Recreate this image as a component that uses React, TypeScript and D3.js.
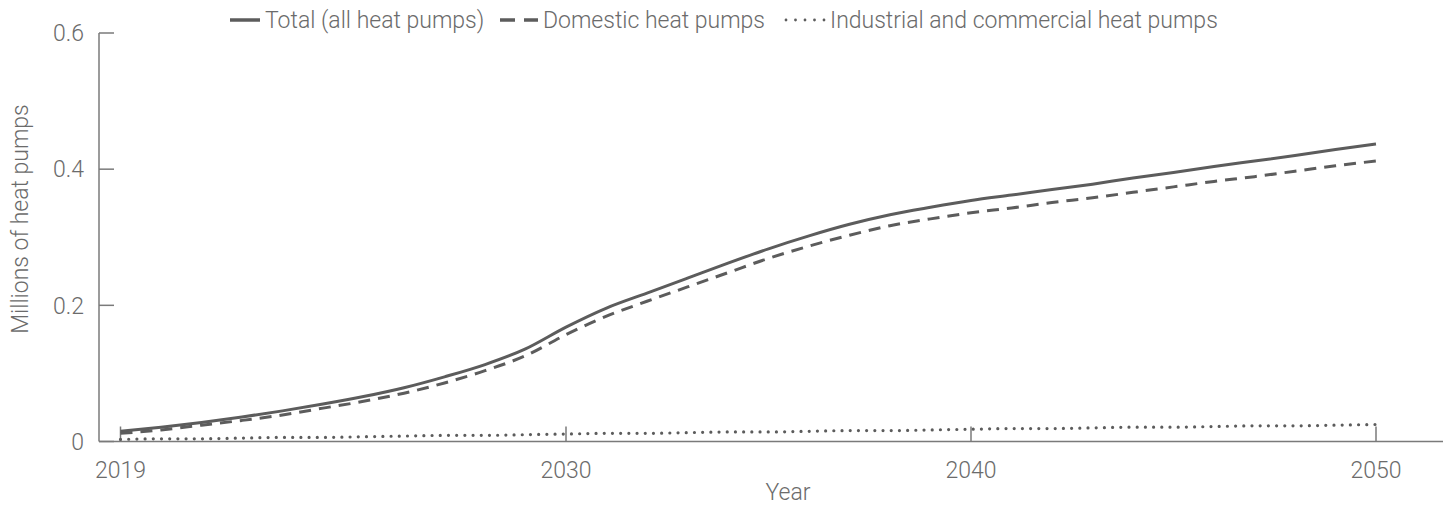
import React from "react";
import * as d3 from "d3";

const years: number[] = d3.range(2019, 2051);
const totalValues: number[] = [0.015, 0.021, 0.028, 0.036, 0.045, 0.055, 0.066, 0.079, 0.095, 0.113, 0.136, 0.168, 0.196, 0.218, 0.240, 0.262, 0.283, 0.302, 0.319, 0.333, 0.344, 0.354, 0.362, 0.370, 0.378, 0.387, 0.395, 0.404, 0.412, 0.420, 0.429, 0.437];
const domesticValues: number[] = [0.012, 0.017, 0.024, 0.031, 0.039, 0.049, 0.059, 0.071, 0.086, 0.104, 0.126, 0.157, 0.184, 0.206, 0.227, 0.248, 0.269, 0.287, 0.303, 0.317, 0.327, 0.336, 0.343, 0.351, 0.358, 0.366, 0.374, 0.382, 0.389, 0.397, 0.405, 0.412];
const industrialValues: number[] = [0.003, 0.004, 0.004, 0.005, 0.006, 0.006, 0.007, 0.008, 0.009, 0.009, 0.010, 0.011, 0.012, 0.012, 0.013, 0.014, 0.014, 0.015, 0.016, 0.016, 0.017, 0.018, 0.019, 0.019, 0.020, 0.021, 0.021, 0.022, 0.023, 0.023, 0.024, 0.025];
const xTicks: number[] = [2019, 2030, 2040, 2050];
const yTicks: number[] = [0, 0.2, 0.4, 0.6];
const seriesNames: string[] = ["Total (all heat pumps)", "Domestic heat pumps", "Industrial and commercial heat pumps"];

const W = 1451;
const H = 508;
const FONT = "Roboto, 'Liberation Sans', Arial, sans-serif";
const TEXT = "#6b6b6b";
const LINE = "#5c5c5c";
const AXIS = "#7a7a7a";
const FS = 23;

export default function App() {
  const x = d3.scaleLinear().domain([2019, 2050]).range([120.5, 1376]);
  const y = d3.scaleLinear().domain([0, 0.6]).range([441.5, 33]);
  const axisLeft = 99;
  const axisRight = 1443;

  const line = d3
    .line<number>()
    .x((_, i) => x(years[i]))
    .y((d) => y(d))
    .curve(d3.curveMonotoneX);

  const styles = [
    { dash: undefined as string | undefined, width: 3, cap: "butt" as const },
    { dash: "12 8", width: 3, cap: "butt" as const },
    { dash: "0 8.2", width: 3.2, cap: "round" as const },
  ];
  const series = [totalValues, domesticValues, industrialValues];

  const legend = [
    { x0: 230, x1: 260, dash: undefined as string | undefined, w: 3.5, cap: "butt" as const },
    { x0: 500, x1: 538, dash: "15 9", w: 3.5, cap: "butt" as const },
    { x0: 786, x1: 825, dash: "0 9.5", w: 2.8, cap: "round" as const },
  ];

  return (
    <svg
      width={W}
      height={H}
      style={{ position: "absolute", left: 0, top: 0, background: "#fff" }}
      fontFamily={FONT}
      fontWeight={300}
    >
      {/* axes */}
      <line x1={axisLeft} x2={axisRight} y1={y(0)} y2={y(0)} stroke={AXIS} strokeWidth={1.5} />
      <line x1={axisLeft} x2={axisLeft} y1={y(0.6)} y2={y(0)} stroke={AXIS} strokeWidth={1.5} />
      {yTicks.map((t) => (
        <g key={"y" + t}>
          <line x1={axisLeft} x2={axisLeft + 15} y1={y(t)} y2={y(t)} stroke={AXIS} strokeWidth={1.5} />
          <text x={84} y={y(t)} dy="0.36em" textAnchor="end" fontSize={FS} fill={TEXT}>
            {t === 0 ? "0" : t.toFixed(1)}
          </text>
        </g>
      ))}
      {xTicks.map((t) => (
        <g key={"x" + t}>
          <line x1={x(t)} x2={x(t)} y1={y(0)} y2={y(0) - 15} stroke={AXIS} strokeWidth={1.5} />
          <text x={x(t)} y={477.5} textAnchor="middle" fontSize={FS} fill={TEXT}>
            {t}
          </text>
        </g>
      ))}
      <text x={788} y={500} textAnchor="middle" fontSize={FS} fill={TEXT}>
        Year
      </text>
      <text
        transform={`translate(27.5, 219) rotate(-90)`}
        textAnchor="middle"
        fontSize={FS}
        fill={TEXT}
      >
        Millions of heat pumps
      </text>

      {/* lines */}
      {series.map((vals, i) => (
        <path
          key={"s" + i}
          d={line(vals) || ""}
          fill="none"
          stroke={LINE}
          strokeWidth={styles[i].width}
          strokeDasharray={styles[i].dash}
          strokeLinecap={styles[i].cap}
        />
      ))}

      {/* legend */}
      {seriesNames.map((name, i) => (
        <g key={"l" + i}>
          <line
            x1={legend[i].x0}
            x2={legend[i].x1}
            y1={20}
            y2={20}
            stroke={LINE}
            strokeWidth={legend[i].w}
            strokeDasharray={legend[i].dash}
            strokeLinecap={legend[i].cap}
          />
          <text x={legend[i].x1 + 5} y={28} fontSize={FS} fill={TEXT}>
            {name}
          </text>
        </g>
      ))}
    </svg>
  );
}
